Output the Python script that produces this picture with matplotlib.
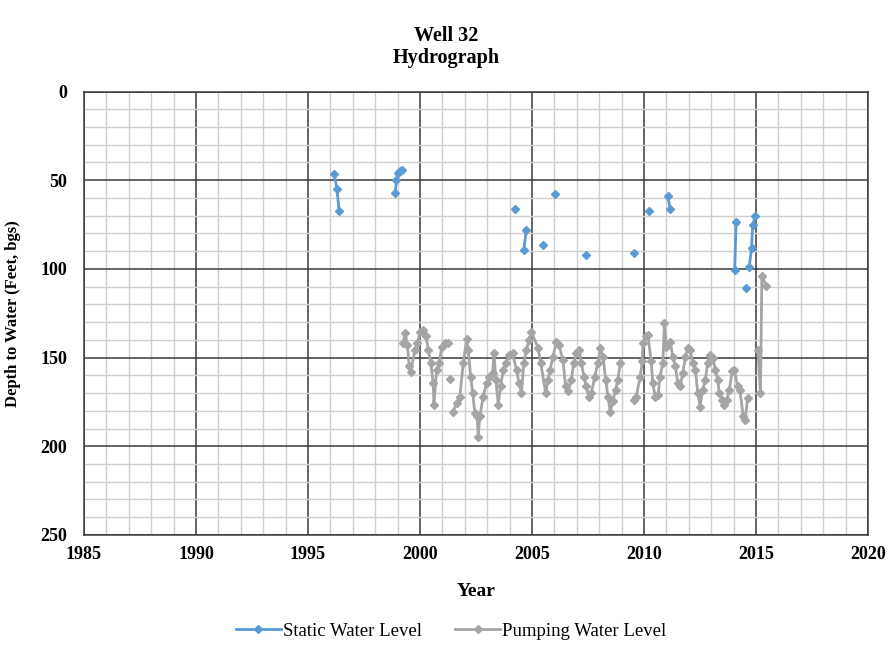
import numpy as np
import matplotlib.pyplot as plt
from matplotlib.ticker import MultipleLocator

# Static water level (NaN = gap in the record, so the line breaks there)
static_year = [1996.17, 1996.29, 1996.39, np.nan,
               1998.89, 1998.95, 1999.03, 1999.10, 1999.18, np.nan,
               2004.23, np.nan,
               2004.63, 2004.75, np.nan,
               2005.49, np.nan,
               2006.01, np.nan,
               2007.39, np.nan,
               2009.55, np.nan,
               2010.21, np.nan,
               2011.06, 2011.17, np.nan,
               2014.05, 2014.11, np.nan,
               2014.57, np.nan,
               2014.70, 2014.80, 2014.85, 2014.97]
static_depth = [46.7, 54.9, 67.3, np.nan,
                57.0, 50.0, 46.1, 44.6, 44.2, np.nan,
                66.2, np.nan,
                89.3, 78.0, np.nan,
                86.5, np.nan,
                57.9, np.nan,
                92.3, np.nan,
                91.2, np.nan,
                67.1, np.nan,
                58.9, 66.2, np.nan,
                100.6, 73.3, np.nan,
                110.5, np.nan,
                98.7, 88.0, 75.2, 70.1]

# Pumping water level
pump_year = [1999.26, 1999.33, 1999.44, 1999.52, 1999.58, 1999.78, 1999.88,
             2000.00, 2000.15, 2000.27, 2000.37, 2000.48, 2000.59, 2000.62,
             2000.74, 2000.86, 2000.97, 2001.11, 2001.26, np.nan,
             2001.34, np.nan,
             2001.48, 2001.63, 2001.78, 2001.93, 2002.08, 2002.15, 2002.26,
             2002.35, 2002.45, 2002.55, 2002.60, 2002.67, 2002.82, 2002.97,
             2003.09, 2003.24, 2003.30, 2003.39, 2003.49, 2003.60, 2003.71,
             2003.83, 2003.98, 2004.13, 2004.31, 2004.42, 2004.53, 2004.63,
             2004.75, 2004.87, 2004.97, 2005.27, 2005.39, 2005.61, 2005.72,
             2005.80, 2005.94, 2006.09, 2006.20, 2006.38, 2006.50, 2006.60,
             2006.76, 2006.86, 2006.98, 2007.10, 2007.20, 2007.32, 2007.42,
             2007.54, 2007.65, 2007.80, 2007.94, 2008.05, 2008.17, 2008.29,
             2008.39, 2008.49, 2008.61, 2008.73, 2008.83, 2008.94, np.nan,
             2009.55, 2009.65, 2009.83, 2009.92, 2009.95, 2010.07, 2010.17,
             2010.32, 2010.39, 2010.50, 2010.62, 2010.72, 2010.84, 2010.91,
             2010.99, 2011.17, 2011.28, 2011.40, 2011.51, 2011.61, 2011.73,
             2011.85, 2011.95, 2012.06, 2012.18, 2012.29, 2012.40, 2012.50,
             2012.62, 2012.74, 2012.84, 2012.95, 2013.07, 2013.19, 2013.29,
             2013.36, 2013.48, 2013.59, 2013.69, 2013.81, 2013.93, 2014.03,
             2014.18, 2014.28, 2014.43, 2014.52, 2014.62, np.nan,
             2015.08, 2015.20, 2015.26, 2015.46]
pump_depth = [141.5, 136.0, 142.8, 155.0, 158.0, 145.6, 142.0,
              135.3, 134.4, 138.0, 145.6, 153.0, 164.4, 176.6,
              157.0, 153.0, 143.8, 142.0, 142.0, np.nan,
              162.2, np.nan,
              180.4, 175.7, 172.0, 153.2, 139.6, 145.6, 160.7,
              170.0, 181.3, 183.2, 194.5, 183.2, 172.0, 164.4,
              160.7, 158.8, 147.5, 162.5, 176.6, 166.3, 157.0,
              153.2, 148.5, 147.5, 157.0, 164.4, 170.0, 153.2,
              145.6, 140.0, 135.3, 144.7, 153.2, 170.0, 162.5,
              157.0, 149.4, 141.0, 142.8, 151.3, 166.3, 169.0,
              162.5, 153.2, 147.5, 145.6, 153.2, 160.7, 166.3,
              172.0, 170.0, 160.7, 153.2, 144.7, 149.4, 162.5,
              172.0, 180.4, 174.7, 168.2, 162.5, 153.2, np.nan,
              173.8, 172.0, 160.7, 152.2, 142.0, 138.1, 137.2,
              152.2, 164.4, 172.0, 171.0, 160.7, 153.2, 130.6,
              143.8, 141.0, 149.4, 155.0, 164.4, 166.3, 158.8,
              149.4, 144.7, 145.6, 153.2, 157.0, 170.0, 177.6,
              168.2, 162.5, 153.2, 148.5, 150.3, 157.0, 162.5,
              170.0, 173.8, 176.6, 173.8, 168.2, 157.8, 157.0,
              166.3, 168.2, 183.2, 185.1, 173.0, np.nan,
              145.6, 170.0, 104.0, 109.6]

plt.rcParams['font.family'] = ['Liberation Serif', 'DejaVu Serif']

fig = plt.figure(figsize=(8.88, 6.49), dpi=100)
ax = fig.add_axes([0.0946, 0.1757, 0.8829, 0.6833])

blue = '#5B9BD5'
grey = '#A5A5A5'
ax.plot(static_year, static_depth, color=blue, lw=2, marker='D', ms=4,
        label='Static Water Level', zorder=3)
ax.plot(pump_year, pump_depth, color=grey, lw=2, marker='D', ms=4,
        label='Pumping Water Level', zorder=3)

ax.set_xlim(1985, 2020)
ax.set_ylim(250, 0)
ax.xaxis.set_major_locator(MultipleLocator(5))
ax.xaxis.set_minor_locator(MultipleLocator(1))
ax.yaxis.set_major_locator(MultipleLocator(50))
ax.yaxis.set_minor_locator(MultipleLocator(10))
ax.grid(which='minor', color='#cfcfcf', lw=1)
ax.grid(which='major', color='#3a3a3a', lw=1.1)
ax.set_axisbelow(True)
ax.tick_params(which='both', length=0, labelsize=13, pad=8)
ax.tick_params(axis='y', pad=12)
for lab in ax.get_xticklabels() + ax.get_yticklabels():
    lab.set_fontweight('bold')
for sp in ax.spines.values():
    sp.set_color('#3a3a3a')
    sp.set_linewidth(1.1)

# title, two lines set close together as in the original
fig.text(0.503, 1 - 36 / 649, 'Well 32', ha='center', va='center',
         fontsize=14.5, fontweight='bold')
fig.text(0.503, 1 - 58 / 649, 'Hydrograph', ha='center', va='center',
         fontsize=14.5, fontweight='bold')

ax.set_xlabel('Year', fontsize=14, fontweight='bold', labelpad=14)
ax.set_ylabel('Depth to Water (Feet, bgs)', fontsize=12, fontweight='bold',
              labelpad=14)

fig.legend(loc='lower center', bbox_to_anchor=(0.508, -0.012), ncol=2,
           frameon=False, fontsize=13.5, handlelength=2.4, handletextpad=0.1,
           columnspacing=1.8)

fig.savefig('out.png', dpi=100)
